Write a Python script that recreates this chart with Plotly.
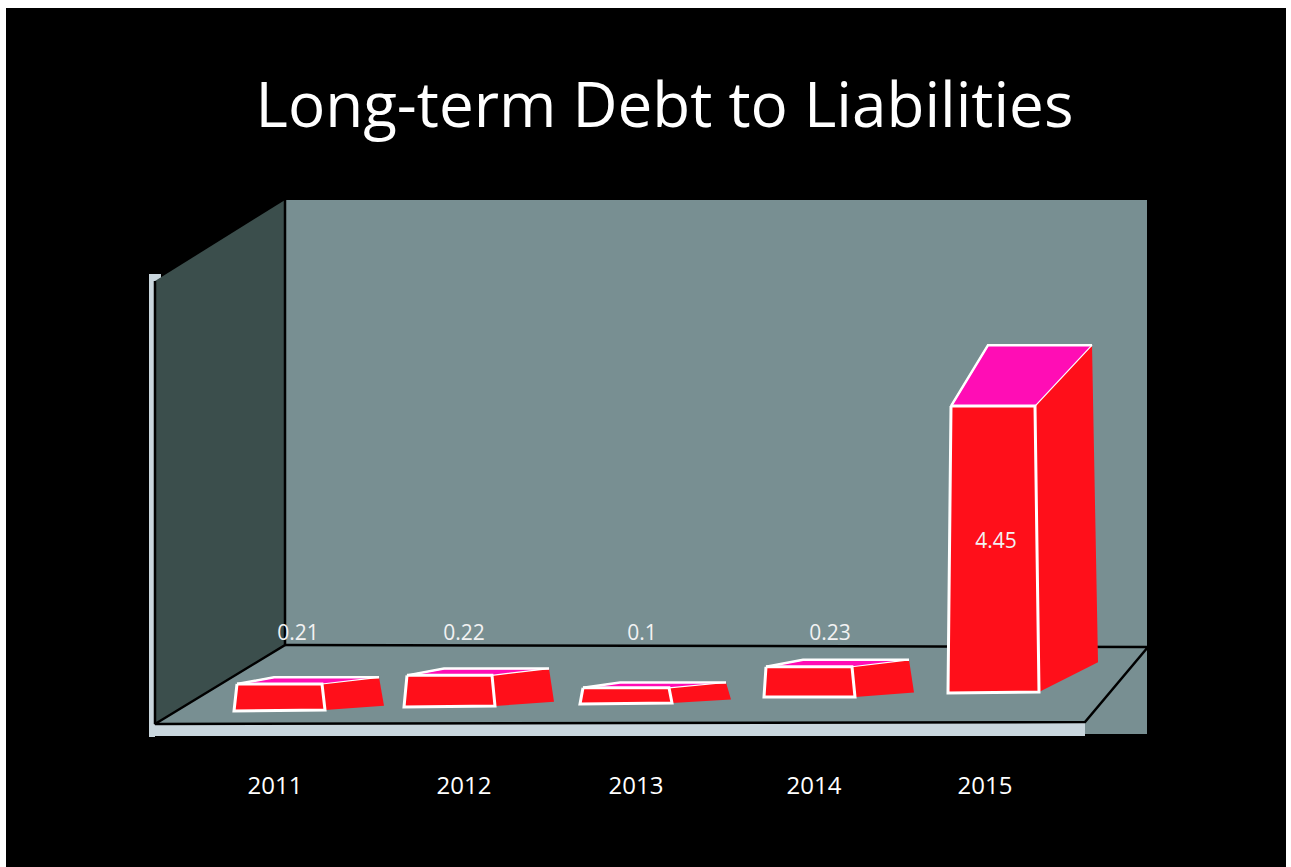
import plotly.graph_objects as go

# Chart content
years = ["2011", "2012", "2013", "2014", "2015"]
values = [0.21, 0.22, 0.1, 0.23, 4.45]
value_labels = ["0.21", "0.22", "0.1", "0.23", "4.45"]
chart_title = "Long-term Debt to Liabilities"

# Scene layout, in page pixels
W, H = 1291, 867
AXIS_BOTTOM_PX = 769
FLOOR_PX = 724
UNIT_PX = 62  # pixels per unit of the ratio

year_tick_x = [275, 464, 636, 814, 985]
label_x = [298, 464, 642, 830, 996]
label_y_px = [635, 635, 635, 635, 543]

front_bottom_left = [234, 404, 580, 764, 948]
front_bottom_right = [325, 495, 672, 855, 1039]
front_top_left = [237, 407, 583, 766, 951]
front_top_right = [322, 492, 669, 852, 1035]
bottom_left_px = [711, 707, 704, 697, 693]
bottom_right_px = [710, 706, 703, 697, 692]
plinth_px = [14, 18, 10, 16, 11]

PANEL = "#788F92"
WALL = "#3B4E4C"
STRIP = "#C9D6DD"
RED = "#FF0F1A"
MAGENTA = "#FF0DB5"
WHITE = "#FFFFFF"
FONT = "Open Sans"


def level(px):
    """Page row to ratio units on the y axis."""
    return (FLOOR_PX - px) / UNIT_PX


fig = go.Figure()


def polygon(xs, ys, fill, line=None, width=0):
    fig.add_trace(go.Scatter(
        x=xs + xs[:1], y=ys + ys[:1], mode="lines", fill="toself", fillcolor=fill,
        line=dict(color=line or fill, width=width), hoverinfo="skip", showlegend=False,
    ))


def rule(xs, ys, color="#000000", width=2.5):
    fig.add_trace(go.Scatter(
        x=xs, y=ys, mode="lines", line=dict(color=color, width=width),
        hoverinfo="skip", showlegend=False,
    ))


def rows(*pxs):
    return [level(p) for p in pxs]


# Light frame strips along the left and front of the box
polygon([149, 161, 161, 155, 155, 149], rows(274, 274, 278, 282, 737, 737), STRIP)
polygon([149, 1085, 1085, 149], rows(724, 722, 736, 736), STRIP)

# Back wall, floor and the piece of wall visible to the right of the floor
polygon([285, 1147, 1147, 285], rows(200, 200, 648, 648), PANEL)
polygon([155, 285, 1148, 1085], rows(724, 645, 648, 722), PANEL)
polygon([1085, 1147, 1147, 1085], rows(722, 648, 734, 734), PANEL)

# Side wall
polygon([155, 285, 285, 155], rows(281, 200, 645, 724), WALL)

# Box edges
rule([155, 155, 285, 285], rows(281, 724, 645, 200))
rule([285, 1148, 1085, 155], rows(645, 647, 722, 724))

# Bars: the front top edge stands on its plinth and rises with the value
for i, v in enumerate(values):
    top = level(bottom_left_px[i]) + plinth_px[i] / UNIT_PX + v
    rise = (4 + 12.8 * v) / UNIT_PX
    side_drop = (3 + 6 * v) / UNIT_PX
    left_bottom = level(bottom_left_px[i])
    right_bottom = level(bottom_right_px[i])
    back_left = front_top_left[i] + 37
    back_right = front_top_right[i] + 57
    side_right = front_bottom_right[i] + 59

    polygon(
        [front_top_right[i], back_right, side_right, front_bottom_right[i]],
        [top, top + rise, right_bottom + side_drop, right_bottom],
        RED,
    )
    polygon(
        [front_top_left[i], back_left, back_right, front_top_right[i]],
        [top, top + rise, top + rise, top],
        MAGENTA, WHITE, 1.2,
    )
    rule(
        [front_top_left[i], back_left, back_right],
        [top, top + rise, top + rise],
        WHITE, 2.5,
    )
    polygon(
        [front_top_left[i], front_top_right[i], front_bottom_right[i], front_bottom_left[i]],
        [top, top, right_bottom, left_bottom],
        RED, WHITE, 3,
    )

# Value labels
fig.add_trace(go.Scatter(
    x=label_x, y=rows(*label_y_px), mode="text", text=value_labels,
    textposition="middle center",
    textfont=dict(family=FONT, size=21, color="#F2F2F2"),
    hoverinfo="skip", showlegend=False,
))

fig.update_layout(
    width=W, height=H,
    margin=dict(l=0, r=0, t=0, b=0),
    paper_bgcolor=WHITE,
    plot_bgcolor="rgba(0,0,0,0)",
    showlegend=False,
    title=dict(
        text=chart_title, x=664.5 / W, xanchor="center", y=1 - 105 / H, yanchor="middle",
        font=dict(family=FONT, size=62, color=WHITE),
    ),
    xaxis=dict(
        range=[0, W], domain=[0, 1], showgrid=False, zeroline=False, showline=False,
        tickmode="array", tickvals=year_tick_x, ticktext=years, ticks="",
        tickfont=dict(family=FONT, size=24, color=WHITE),
    ),
    yaxis=dict(
        range=[level(AXIS_BOTTOM_PX), level(0)],
        domain=[1 - AXIS_BOTTOM_PX / H, 1],
        showgrid=False, zeroline=False, showline=False, showticklabels=False, ticks="",
    ),
    shapes=[dict(
        type="rect", xref="paper", yref="paper", layer="below",
        x0=6 / W, x1=1286 / W, y0=-0.2, y1=1 - 8 / H,
        fillcolor="#000000", line=dict(width=0),
    )],
)

fig.write_html("out.html")
